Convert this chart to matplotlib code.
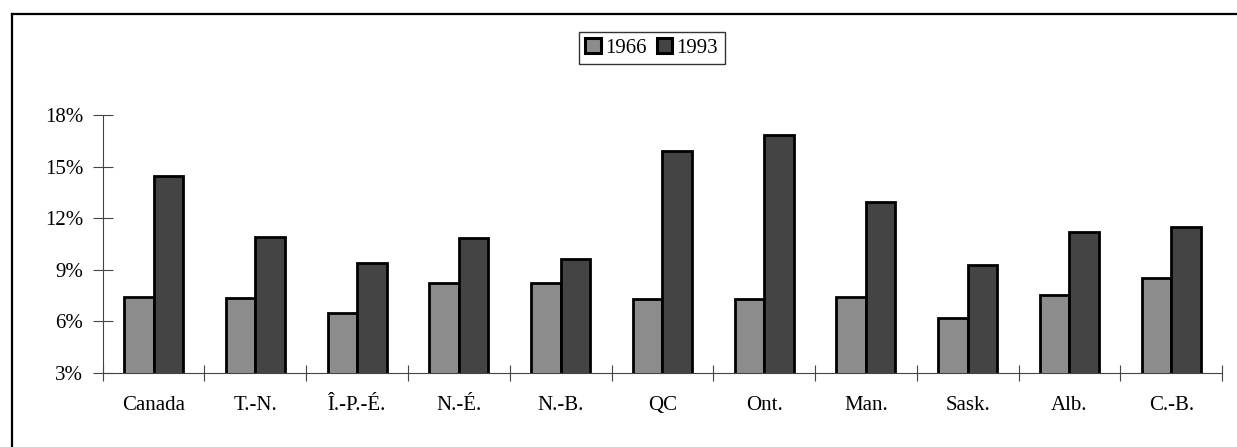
import matplotlib
matplotlib.use("Agg")
import matplotlib.pyplot as plt
import numpy as np
from matplotlib.ticker import FuncFormatter, FixedLocator
from matplotlib.lines import Line2D

categories = ["Canada", "T.-N.", "Î.-P.-É.", "N.-É.", "N.-B.", "QC", "Ont.", "Man.", "Sask.", "Alb.", "C.-B."]
series_names = ["1966", "1993"]
values_1966 = [7.4, 7.35, 6.5, 8.2, 8.25, 7.27, 7.27, 7.4, 6.17, 7.5, 8.53]
values_1993 = [14.43, 10.92, 9.38, 10.82, 9.62, 15.9, 16.85, 12.94, 9.27, 11.21, 11.5]
yticks = [3, 6, 9, 12, 15, 18]
colors = ["#8c8c8c", "#444444"]

plt.rcParams['font.family'] = ['Liberation Serif', 'DejaVu Serif']
fig = plt.figure(figsize=(12.37, 4.47), dpi=100)
ax = fig.add_axes([0.083, 0.1662, 0.9050, 0.5765])

x = np.arange(len(categories))
w = 0.29
ax.bar(x - w/2, values_1966, w, bottom=0, color=colors[0], edgecolor="black", linewidth=2.0, label=series_names[0], zorder=3)
ax.bar(x + w/2, values_1993, w, bottom=0, color=colors[1], edgecolor="black", linewidth=2.0, label=series_names[1], zorder=3)

ax.set_ylim(3, 18)
ax.set_xlim(-0.5, len(categories) - 0.5)
ax.set_yticks(yticks)
ax.yaxis.set_major_formatter(FuncFormatter(lambda v, p: f"{int(v)}%"))
ax.set_xticks(x)
ax.set_xticklabels(categories)
ax.xaxis.set_minor_locator(FixedLocator(np.arange(-0.5, len(categories), 1.0)))
ax.tick_params(axis="x", which="major", length=0, pad=17, labelsize=15)
ax.tick_params(axis="x", which="minor", direction="inout", length=12, width=0.8, color="#444444")
ax.tick_params(axis="y", direction="inout", length=14, width=0.8, color="#444444", pad=7, labelsize=15)

for s in ["top", "right"]:
    ax.spines[s].set_visible(False)
for s in ["left", "bottom"]:
    ax.spines[s].set_color("#444444")
    ax.spines[s].set_linewidth(0.8)
    ax.spines[s].set_zorder(4)

leg = ax.legend(loc="center", bbox_to_anchor=(651.7/1237, 1 - 48/447), bbox_transform=fig.transFigure,
                ncol=2, frameon=True, fancybox=False, fontsize=15, handlelength=0.75, handleheight=0.75,
                handletextpad=0.2, columnspacing=0.5, borderpad=0.3, borderaxespad=0, edgecolor="black")
leg.get_frame().set_linewidth(1.0)
for h in leg.legend_handles:
    h.set_linewidth(2.2)

# outer border (top and left)
fig.add_artist(Line2D([12/1237, 1], [1 - 14/447, 1 - 14/447], transform=fig.transFigure, color="black", linewidth=1.6))
fig.add_artist(Line2D([12/1237, 12/1237], [0, 1 - 14/447], transform=fig.transFigure, color="black", linewidth=1.6))

fig.savefig("out.png", dpi=100)
